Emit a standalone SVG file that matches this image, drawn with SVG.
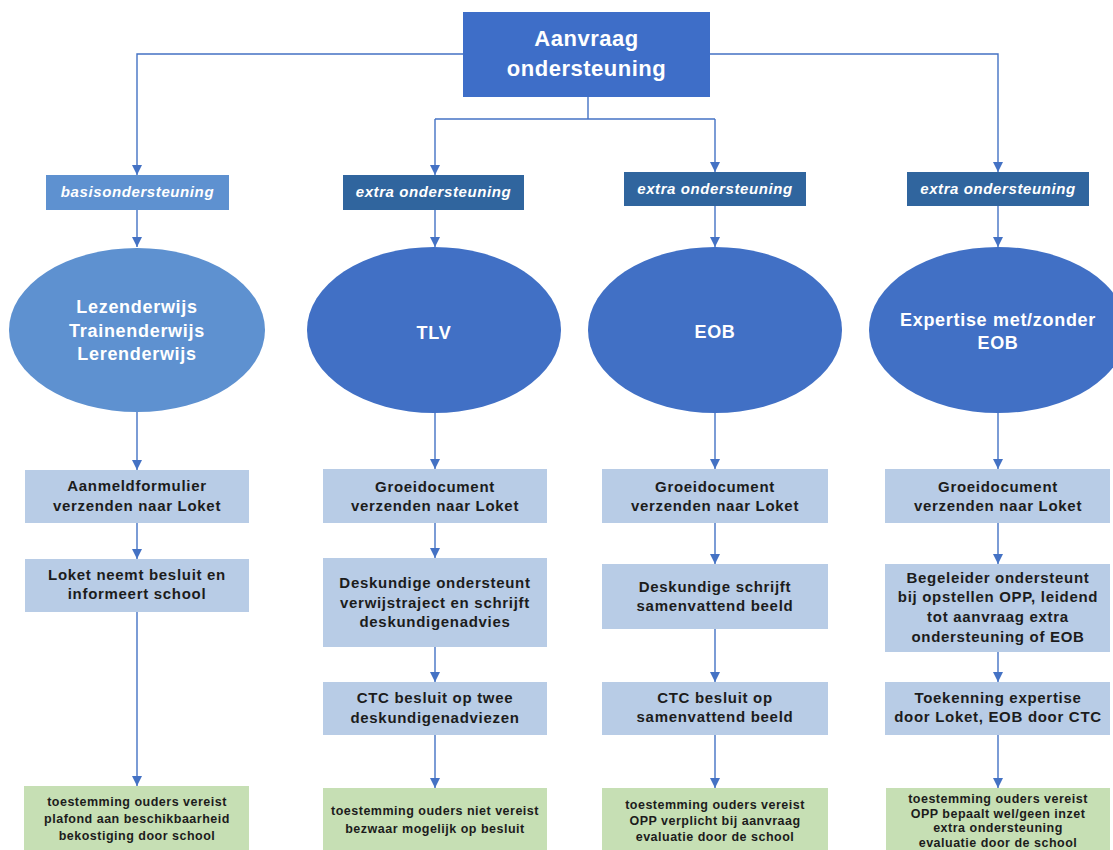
<svg xmlns="http://www.w3.org/2000/svg" width="1113" height="850" viewBox="0 0 1113 850">
<defs>
<marker id="arr" markerUnits="userSpaceOnUse" markerWidth="10" markerHeight="11" refX="10" refY="5" orient="auto">
<path d="M0,0 L10,5 L0,10 z" fill="#4472C4"/>
</marker>
<style>
.con{fill:none;stroke:#4472C4;stroke-width:1.4}
.top{fill:#3E6EC8}
.lbl-b{fill:#5E91D0}
.lbl-e{fill:#30659E}
.ell-b{fill:#5E91D0}
.ell-e{fill:#4170C5}
.box{fill:#B8CCE6}
.grn{fill:#C6DFB4}
text{font-family:"Liberation Sans",Arial,sans-serif;text-anchor:middle}
.tt{font-size:22px;font-weight:bold;fill:#fff;letter-spacing:0.5px}
.lt{font-size:15px;font-weight:bold;font-style:italic;fill:#fff;letter-spacing:0.6px}
.et{font-size:18px;font-weight:bold;fill:#fff;letter-spacing:0.7px}
.bt{font-size:15px;font-weight:bold;fill:#1c1c1c;letter-spacing:0.7px}
.gt{font-size:12.5px;font-weight:bold;fill:#1c1c1c;letter-spacing:0.5px}
</style>
</defs>
<rect width="1113" height="850" fill="#fff"/>

<g id="connectors">
<path class="con" d="M463,54 H137 V175" marker-end="url(#arr)"/>
<path class="con" d="M588,97 V119"/>
<path class="con" d="M435,119 H715"/>
<path class="con" d="M435,119 V175" marker-end="url(#arr)"/>
<path class="con" d="M715,119 V172" marker-end="url(#arr)"/>
<path class="con" d="M710,54 H998 V172" marker-end="url(#arr)"/>
<path class="con" d="M137,210 V247" marker-end="url(#arr)"/>
<path class="con" d="M435,210 V247" marker-end="url(#arr)"/>
<path class="con" d="M715,206 V247" marker-end="url(#arr)"/>
<path class="con" d="M998,206 V247" marker-end="url(#arr)"/>
<path class="con" d="M137,412 V470" marker-end="url(#arr)"/>
<path class="con" d="M435,413 V469" marker-end="url(#arr)"/>
<path class="con" d="M715,413 V469" marker-end="url(#arr)"/>
<path class="con" d="M998,413 V469" marker-end="url(#arr)"/>
<path class="con" d="M137,523 V559" marker-end="url(#arr)"/>
<path class="con" d="M137,612 V786" marker-end="url(#arr)"/>
<path class="con" d="M435,523 V558" marker-end="url(#arr)"/>
<path class="con" d="M435,647 V682" marker-end="url(#arr)"/>
<path class="con" d="M435,735 V788" marker-end="url(#arr)"/>
<path class="con" d="M715,523 V564" marker-end="url(#arr)"/>
<path class="con" d="M715,629 V682" marker-end="url(#arr)"/>
<path class="con" d="M715,735 V788" marker-end="url(#arr)"/>
<path class="con" d="M998,523 V564" marker-end="url(#arr)"/>
<path class="con" d="M998,652 V682" marker-end="url(#arr)"/>
<path class="con" d="M998,735 V788" marker-end="url(#arr)"/>
</g>

<g id="aanvraag">
<rect class="top" x="463" y="12" width="247" height="85"/>
<text class="tt" x="586.5" y="46">Aanvraag</text>
<text class="tt" x="586.5" y="76">ondersteuning</text>
</g>

<g id="label-basis">
<rect class="lbl-b" x="46" y="175" width="183" height="35"/>
<text class="lt" x="137.5" y="197">basisondersteuning</text>
</g>
<g id="label-extra-1">
<rect class="lbl-e" x="343" y="175" width="181" height="35"/>
<text class="lt" x="433.5" y="197">extra ondersteuning</text>
</g>
<g id="label-extra-2">
<rect class="lbl-e" x="624" y="172" width="182" height="34"/>
<text class="lt" x="715" y="194">extra ondersteuning</text>
</g>
<g id="label-extra-3">
<rect class="lbl-e" x="907" y="172" width="182" height="34"/>
<text class="lt" x="998" y="194">extra ondersteuning</text>
</g>

<g id="ellipse-basis">
<ellipse class="ell-b" cx="137" cy="330" rx="128" ry="82"/>
<text class="et" x="137" y="313">Lezenderwijs</text>
<text class="et" x="137" y="337">Trainenderwijs</text>
<text class="et" x="137" y="360">Lerenderwijs</text>
</g>
<g id="ellipse-tlv">
<ellipse class="ell-e" cx="434" cy="330" rx="127" ry="83"/>
<text class="et" x="434" y="339">TLV</text>
</g>
<g id="ellipse-eob">
<ellipse class="ell-e" cx="715" cy="330" rx="127" ry="83"/>
<text class="et" x="715" y="338">EOB</text>
</g>
<g id="ellipse-expertise">
<ellipse class="ell-e" cx="998" cy="330" rx="129" ry="83"/>
<text class="et" x="998" y="326">Expertise met/zonder</text>
<text class="et" x="998" y="349">EOB</text>
</g>

<g id="c1-box1">
<rect class="box" x="25" y="470" width="224" height="53"/>
<text class="bt" x="137" y="491">Aanmeldformulier</text>
<text class="bt" x="137" y="511">verzenden naar Loket</text>
</g>
<g id="c1-box2">
<rect class="box" x="25" y="559" width="224" height="53"/>
<text class="bt" x="137" y="580">Loket neemt besluit en</text>
<text class="bt" x="137" y="599">informeert school</text>
</g>
<g id="c1-green">
<rect class="grn" x="24" y="786" width="225" height="64"/>
<text class="gt" x="137" y="806">toestemming ouders vereist</text>
<text class="gt" x="137" y="823">plafond aan beschikbaarheid</text>
<text class="gt" x="137" y="840">bekostiging door school</text>
</g>

<g id="c2-box1">
<rect class="box" x="323" y="469" width="224" height="54"/>
<text class="bt" x="435" y="492">Groeidocument</text>
<text class="bt" x="435" y="511">verzenden naar Loket</text>
</g>
<g id="c2-box2">
<rect class="box" x="323" y="558" width="224" height="89"/>
<text class="bt" x="435" y="588">Deskundige ondersteunt</text>
<text class="bt" x="435" y="608">verwijstraject en schrijft</text>
<text class="bt" x="435" y="627">deskundigenadvies</text>
</g>
<g id="c2-box3">
<rect class="box" x="323" y="682" width="224" height="53"/>
<text class="bt" x="435" y="703">CTC besluit op twee</text>
<text class="bt" x="435" y="723">deskundigenadviezen</text>
</g>
<g id="c2-green">
<rect class="grn" x="323" y="788" width="224" height="62"/>
<text class="gt" x="435" y="815">toestemming ouders niet vereist</text>
<text class="gt" x="435" y="833">bezwaar mogelijk op besluit</text>
</g>

<g id="c3-box1">
<rect class="box" x="602" y="469" width="226" height="54"/>
<text class="bt" x="715" y="492">Groeidocument</text>
<text class="bt" x="715" y="511">verzenden naar Loket</text>
</g>
<g id="c3-box2">
<rect class="box" x="602" y="564" width="226" height="65"/>
<text class="bt" x="715" y="592">Deskundige schrijft</text>
<text class="bt" x="715" y="611">samenvattend beeld</text>
</g>
<g id="c3-box3">
<rect class="box" x="602" y="682" width="226" height="53"/>
<text class="bt" x="715" y="703">CTC besluit op</text>
<text class="bt" x="715" y="722">samenvattend beeld</text>
</g>
<g id="c3-green">
<rect class="grn" x="602" y="788" width="226" height="62"/>
<text class="gt" x="715" y="809">toestemming ouders vereist</text>
<text class="gt" x="715" y="825">OPP verplicht bij aanvraag</text>
<text class="gt" x="715" y="841">evaluatie door de school</text>
</g>

<g id="c4-box1">
<rect class="box" x="885" y="469" width="225" height="54"/>
<text class="bt" x="998" y="492">Groeidocument</text>
<text class="bt" x="998" y="511">verzenden naar Loket</text>
</g>
<g id="c4-box2">
<rect class="box" x="885" y="564" width="225" height="88"/>
<text class="bt" x="998" y="583">Begeleider ondersteunt</text>
<text class="bt" x="998" y="602">bij opstellen OPP, leidend</text>
<text class="bt" x="998" y="622">tot aanvraag extra</text>
<text class="bt" x="998" y="642">ondersteuning of EOB</text>
</g>
<g id="c4-box3">
<rect class="box" x="885" y="682" width="225" height="53"/>
<text class="bt" x="998" y="703">Toekenning expertise</text>
<text class="bt" x="998" y="722">door Loket, EOB door CTC</text>
</g>
<g id="c4-green">
<rect class="grn" x="886" y="788" width="224" height="62"/>
<text class="gt" x="998" y="803">toestemming ouders vereist</text>
<text class="gt" x="998" y="818">OPP bepaalt wel/geen inzet</text>
<text class="gt" x="998" y="832">extra ondersteuning</text>
<text class="gt" x="998" y="847">evaluatie door de school</text>
</g>
</svg>
